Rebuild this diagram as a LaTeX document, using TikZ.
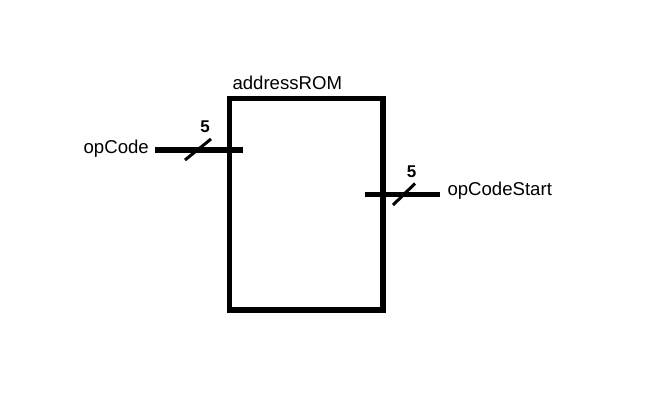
\documentclass[tikz,border=0pt]{standalone}
\usepackage{fontspec}
\setmainfont{Liberation Sans}
\begin{document}
\begin{tikzpicture}[x=1pt,y=-1pt,
  wire/.style={line width=5.5pt},
  slash/.style={line width=3pt},
  lbl/.style={inner sep=0pt,font=\fontsize{18.6}{20}\selectfont},
  bw/.style={inner sep=0pt,font=\fontsize{17}{20}\selectfont\bfseries}]
\useasboundingbox (0,0) rectangle (668,416);
\node[draw,line width=5.5pt,minimum width=153.5pt,minimum height=211.5pt,inner sep=0pt] (rom) at (306.25,204.25) {};
\node[lbl,anchor=base west] (romname) at (232.3,89.3) {addressROM};
% input
\coordinate (in1) at (155,150);
\coordinate (in2) at (243,150);
\draw[wire] (in1) -- (in2);
\coordinate (s1a) at (185,160);
\coordinate (s1b) at (211,139);
\draw[slash] (s1a) -- (s1b);
\node[bw,anchor=base] (w1) at (205,132.7) {5};
\node[lbl,anchor=base east] (opcode) at (149,153.3) {opCode};
% output
\coordinate (out1) at (365,194.5);
\coordinate (out2) at (440,194.5);
\draw[wire] (out1) -- (out2);
\coordinate (s2a) at (393,205);
\coordinate (s2b) at (415,183.5);
\draw[slash] (s2a) -- (s2b);
\node[bw,anchor=base] (w2) at (411.5,177.3) {5};
\node[lbl,anchor=base west] (opcs) at (447.3,195.3) {opCodeStart};
\end{tikzpicture}
\end{document}
